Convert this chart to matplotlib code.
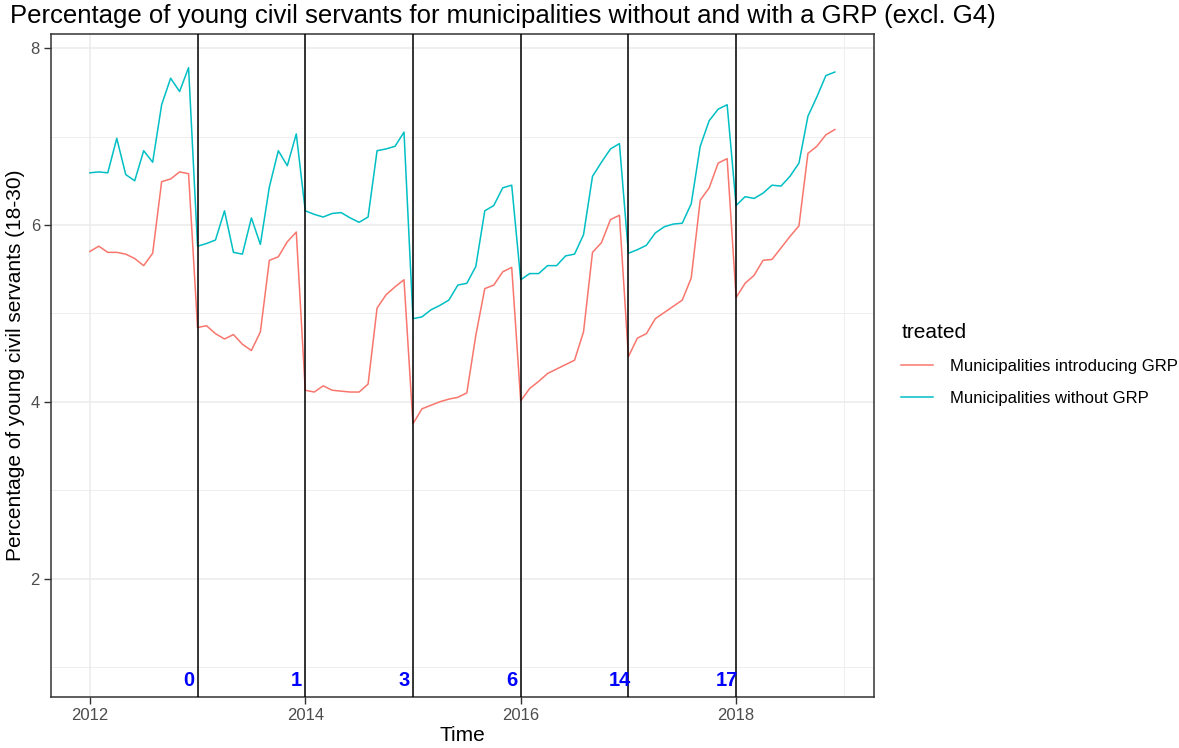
import numpy as np
import matplotlib
matplotlib.use("Agg")
import matplotlib.pyplot as plt
from matplotlib.ticker import FixedLocator

plt.rcParams['font.family'] = ['Liberation Sans', 'DejaVu Sans']

# monthly series 2012-01 .. 2018-12
years = [2012, 2013, 2014, 2015, 2016, 2017, 2018]
months = np.array([y + m / 12 for y in years for m in range(12)])

treated_grp = [
    5.70, 5.76, 5.69, 5.69, 5.67, 5.62, 5.54, 5.68, 6.49, 6.52, 6.60, 6.58,
    4.84, 4.86, 4.77, 4.71, 4.76, 4.65, 4.58, 4.79, 5.60, 5.64, 5.81, 5.92,
    4.13, 4.11, 4.18, 4.13, 4.12, 4.11, 4.11, 4.20, 5.06, 5.21, 5.30, 5.38,
    3.75, 3.92, 3.96, 4.00, 4.03, 4.05, 4.10, 4.75, 5.28, 5.32, 5.47, 5.52,
    4.01, 4.15, 4.23, 4.32, 4.37, 4.42, 4.47, 4.79, 5.69, 5.80, 6.06, 6.11,
    4.51, 4.72, 4.77, 4.94, 5.01, 5.08, 5.15, 5.40, 6.28, 6.42, 6.70, 6.75,
    5.18, 5.34, 5.43, 5.60, 5.61, 5.74, 5.87, 5.99, 6.81, 6.89, 7.02, 7.08,
]
without_grp = [
    6.59, 6.60, 6.59, 6.98, 6.57, 6.50, 6.84, 6.71, 7.36, 7.66, 7.51, 7.78,
    5.76, 5.79, 5.83, 6.16, 5.69, 5.67, 6.08, 5.78, 6.43, 6.84, 6.67, 7.03,
    6.16, 6.12, 6.09, 6.13, 6.14, 6.08, 6.03, 6.09, 6.84, 6.86, 6.89, 7.05,
    4.94, 4.96, 5.04, 5.09, 5.15, 5.32, 5.34, 5.53, 6.16, 6.22, 6.42, 6.45,
    5.38, 5.45, 5.45, 5.54, 5.54, 5.65, 5.67, 5.89, 6.55, 6.71, 6.86, 6.92,
    5.68, 5.72, 5.77, 5.91, 5.98, 6.01, 6.02, 6.24, 6.89, 7.18, 7.31, 7.36,
    6.22, 6.32, 6.30, 6.36, 6.45, 6.44, 6.55, 6.70, 7.23, 7.45, 7.69, 7.73,
]

# GRP introduction years and number of municipalities
intro_years = [2013, 2014, 2015, 2016, 2017, 2018]
intro_counts = ["0", "1", "3", "6", "14", "17"]

fig = plt.figure(figsize=(11.79, 7.48), dpi=100)
ax = fig.add_axes([0.0433, 0.0682, 0.6980, 0.8863])

ax.plot(months, treated_grp, color="#F8766D", lw=1.1, label="Municipalities introducing GRP", zorder=3)
ax.plot(months, without_grp, color="#00BFC4", lw=1.1, label="Municipalities without GRP", zorder=3)

for yr in intro_years:
    ax.axvline(yr, color="black", lw=1.1, zorder=4)

for yr, txt in zip(intro_years, intro_counts):
    ax.text(yr - 1 / 12, 0.85, txt, color="blue", fontsize=14.5, fontweight="bold",
            ha="center", va="center", zorder=5)

ax.set_xlim(2011.64, 2019.28)
ax.set_ylim(0.66, 8.16)
ax.set_xticks([2012, 2014, 2016, 2018])
ax.set_yticks([2, 4, 6, 8])
ax.xaxis.set_minor_locator(FixedLocator([2013, 2015, 2017, 2019]))
ax.yaxis.set_minor_locator(FixedLocator([1, 3, 5, 7]))
ax.tick_params(which="minor", length=0)
ax.tick_params(which="major", length=5, width=1, color="#333333", labelsize=12, labelcolor="#4d4d4d", pad=3)

ax.grid(which="major", color="#ebebeb", lw=1.1, zorder=0)
ax.grid(which="minor", color="#ebebeb", lw=0.6, zorder=0)
ax.set_axisbelow(True)
for s in ax.spines.values():
    s.set_color("#333333")
    s.set_linewidth(1.1)

ax.set_xlabel("Time", fontsize=15, labelpad=2)
ax.set_ylabel("Percentage of young civil servants (18-30)", fontsize=15, labelpad=4)
fig.text(0.0085, 0.979, "Percentage of young civil servants for municipalities without and with a GRP (excl. G4)",
         fontsize=18.5, ha="left", va="center")

leg = ax.legend(loc="upper left", bbox_to_anchor=(1.015, 0.587), frameon=False, title="treated",
                fontsize=12, title_fontsize=15, handlelength=1.9, handletextpad=1.0, labelspacing=1.05)
leg._legend_box.align = "left"
leg._legend_box.sep = 12

fig.savefig("out.png", dpi=100)
